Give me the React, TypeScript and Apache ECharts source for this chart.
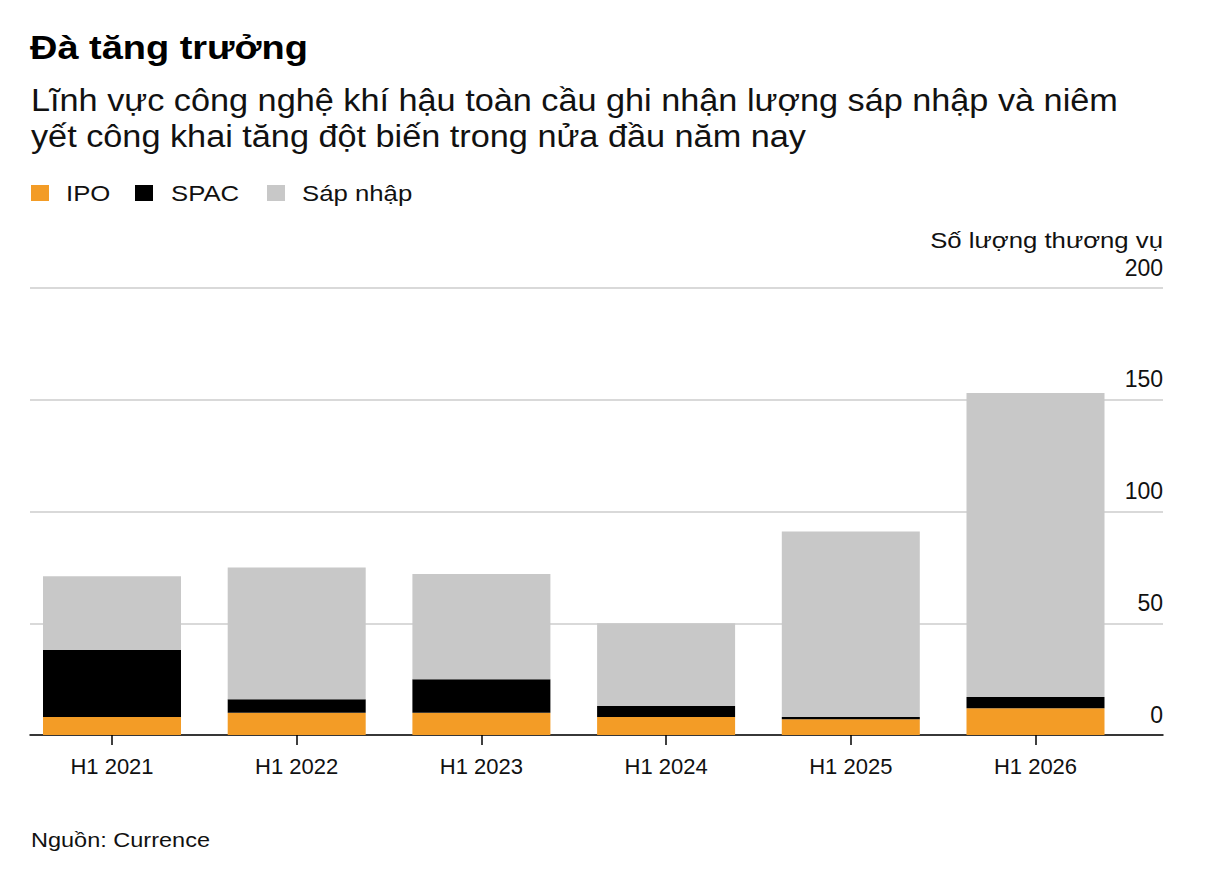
import React, { useEffect, useRef } from "react";
import * as echarts from "echarts";

const categories = ["H1 2021", "H1 2022", "H1 2023", "H1 2024", "H1 2025", "H1 2026"];
const ipo = [8, 10, 10, 8, 7, 12];
const spac = [30, 6, 15, 5, 1, 5];
const merger = [33, 59, 47, 37, 83, 136];
const yTicks = { min: 0, max: 200, interval: 50 };
const seriesNames = ["IPO", "SPAC", "Sáp nhập"];
const seriesColors = ["#F39C26", "#000000", "#C8C8C8"];

const FONT = '"Liberation Sans", Arial, Helvetica, sans-serif';

export default function App() {
  const ref = useRef<HTMLDivElement>(null);

  useEffect(() => {
    if (!ref.current) return;
    const chart = echarts.init(ref.current, undefined, { renderer: "svg" });
    const allSeries = [ipo, spac, merger];

    const legendX = [[31, 66], [135, 171], [267, 302]];
    const legendGraphics: any[] = [];
    seriesNames.forEach((n, i) => {
      legendGraphics.push({
        type: "rect",
        shape: { x: legendX[i][0], y: 185, width: 18, height: 16 },
        style: { fill: seriesColors[i] },
      });
      legendGraphics.push({
        type: "text",
        x: legendX[i][1],
        y: 193,
        scaleX: 1.12,
        style: { text: n, font: `23px ${FONT}`, fill: "#111", verticalAlign: "middle" },
      });
    });

    const top = 288;
    const bottom = 145;
    const step = 184.7;
    const barGridLeft = 112 - step / 2;
    const barGridRight = 1212 - (barGridLeft + step * categories.length);

    chart.setOption({
      animation: false,
      textStyle: { fontFamily: FONT },
      grid: [
        { left: 30, right: 49, top, bottom },
        { left: barGridLeft, right: barGridRight, top, bottom },
      ],
      xAxis: [
        {
          gridIndex: 0,
          type: "value",
          min: 0,
          max: 1,
          axisLine: { show: true, onZero: false, lineStyle: { color: "#000", width: 1.5 } },
          axisTick: { show: false },
          axisLabel: { show: false },
          splitLine: { show: false },
        },
        {
          gridIndex: 1,
          type: "category",
          data: categories,
          axisLine: { show: false },
          axisTick: {
            show: true,
            alignWithLabel: true,
            length: 10,
            lineStyle: { color: "#000", width: 1.5 },
          },
          axisLabel: { margin: 20, fontSize: 22, color: "#111" },
          splitLine: { show: false },
        },
      ],
      yAxis: [
        {
          gridIndex: 0,
          type: "value",
          position: "right",
          min: yTicks.min,
          max: yTicks.max,
          interval: yTicks.interval,
          axisLine: { show: false },
          axisTick: { show: false },
          splitLine: { lineStyle: { color: "#D9D9D9", width: 2 } },
          axisLabel: {
            inside: true,
            margin: 0,
            fontSize: 23,
            color: "#111",
            verticalAlign: "bottom",
            padding: [0, 0, 9, 0],
          },
        },
        {
          gridIndex: 1,
          type: "value",
          min: yTicks.min,
          max: yTicks.max,
          interval: yTicks.interval,
          show: false,
          splitLine: { show: false },
        },
      ],
      series: allSeries.map((arr, i) => ({
        name: seriesNames[i],
        type: "bar",
        stack: "total",
        xAxisIndex: 1,
        yAxisIndex: 1,
        barWidth: 138,
        data: arr,
        itemStyle: { color: seriesColors[i] },
      })),
      graphic: [
        {
          type: "text",
          x: 30,
          y: 48,
          scaleX: 1.15,
          style: { text: "Đà tăng trưởng", font: `bold 33px ${FONT}`, fill: "#000", verticalAlign: "middle" },
        },
        {
          type: "text",
          x: 31,
          y: 100,
          scaleX: 1.105,
          style: {
            text: "Lĩnh vực công nghệ khí hậu toàn cầu ghi nhận lượng sáp nhập và niêm",
            font: `31px ${FONT}`,
            fill: "#111",
            verticalAlign: "middle",
          },
        },
        {
          type: "text",
          x: 31,
          y: 136,
          scaleX: 1.105,
          style: {
            text: "yết công khai tăng đột biến trong nửa đầu năm nay",
            font: `31px ${FONT}`,
            fill: "#111",
            verticalAlign: "middle",
          },
        },
        ...legendGraphics,
        {
          type: "text",
          x: 1163,
          y: 240,
          scaleX: 1.12,
          style: {
            text: "Số lượng thương vụ",
            font: `23px ${FONT}`,
            fill: "#111",
            align: "right",
            verticalAlign: "middle",
          },
        },
        {
          type: "text",
          x: 31,
          y: 840,
          scaleX: 1.12,
          style: { text: "Nguồn: Currence", font: `21px ${FONT}`, fill: "#111", verticalAlign: "middle" },
        },
      ],
    });
    return () => chart.dispose();
  }, []);

  return (
    <div
      ref={ref}
      style={{ position: "fixed", left: 0, top: 0, width: 1212, height: 880, background: "#fff" }}
    />
  );
}
